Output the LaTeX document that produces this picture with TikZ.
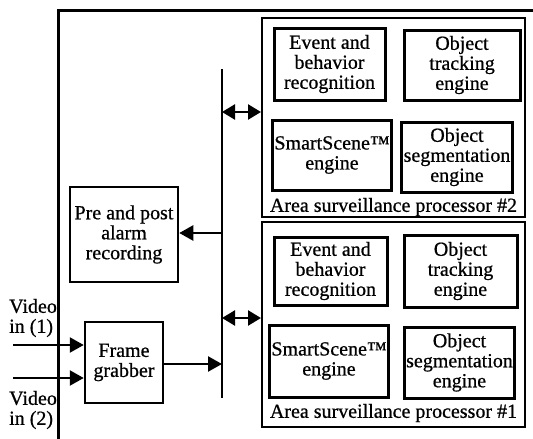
\documentclass[tikz,border=0pt]{standalone}
\usepackage{fontspec}
\setmainfont{Liberation Serif}[FakeBold=0.7]
\usetikzlibrary{arrows.meta,positioning}
\tikzset{
  font=\fontsize{20}{20}\selectfont,
  engine/.style={draw, line width=3pt, align=center, inner sep=2pt},
  proc/.style={draw, line width=2pt, minimum width=263pt},
  unit/.style={draw, line width=2.5pt, align=center, inner sep=2pt},
  busline/.style={line width=2.3pt},
  flow/.style={-{Triangle[length=14pt,width=15pt]}, line width=2.4pt},
  dflow/.style={{Triangle[length=13pt,width=15pt]}-{Triangle[length=13pt,width=15pt]}, line width=2.4pt},
  plabel/.style={inner sep=0pt}
}
\begin{document}
\begin{tikzpicture}[x=1pt,y=-1pt]
  \useasboundingbox (0,0) rectangle (533,439);
  % outer frame
  \coordinate (fbot) at (58,439);
  \coordinate (ftop) at (58,10);
  \coordinate (fright) at (533,10);
  \draw[line width=3pt] (fbot) -- (ftop) -- (fright);

  % processor #2
  \node[proc, minimum height=199pt] (proc2) at (393.5,117.5) {};
  \node[engine, minimum width=111pt, minimum height=72pt] (ev2) at (329.5,64) {Event and\\behavior\\recognition};
  \node[engine, minimum width=116pt, minimum height=70pt] (tr2) at (462,65) {Object\\tracking\\engine};
  \node[engine, minimum width=116pt, minimum height=70pt] (ss2) at (332,155) {SmartScene™\\engine};
  \node[engine, minimum width=110pt, minimum height=70pt] (sg2) at (457,157) {Object\\segmentation\\engine};
  \node[plabel] (lab2) at (393.5,207) {Area surveillance processor \#2};

  % processor #1
  \node[proc, minimum height=205pt] (proc1) at (393.5,324.5) {};
  \node[engine, minimum width=113pt, minimum height=68pt] (ev1) at (330.5,271) {Event and\\behavior\\recognition};
  \node[engine, minimum width=113pt, minimum height=72pt] (tr1) at (460.5,271) {Object\\tracking\\engine};
  \node[engine, minimum width=110pt, minimum height=72pt] (ss1) at (329,361) {SmartScene™\\engine};
  \node[engine, minimum width=109pt, minimum height=71pt] (sg1) at (459.5,362.5) {Object\\segmentation\\engine};
  \node[plabel] (lab1) at (393.5,413) {Area surveillance processor \#1};

  % left units
  \node[unit, minimum width=108pt, minimum height=95pt] (rec) at (124,234.5) {Pre and post\\alarm\\recording};
  \node[unit, minimum width=78pt, minimum height=81pt] (fg) at (124,362.5) {Frame\\grabber};

  % bus
  \coordinate (bustop) at (222,69);
  \coordinate (busbot) at (222,398);
  \draw[busline] (bustop) -- (busbot);
  \coordinate (b2) at (222,112);
  \coordinate (brec) at (222,233);
  \coordinate (b1) at (222,318);
  \coordinate (bfg) at (222,364);

  % inputs
  \coordinate (vin1) at (13,345);
  \coordinate (vin2) at (13,378);
  \node[plabel, align=left, anchor=west] (lv1) at (9,318) {Video\\in (1)};
  \node[plabel, align=left, anchor=west] (lv2) at (9,410) {Video\\in (2)};

  \draw[flow] (vin1) -- (fg.west |- vin1);
  \draw[flow] (vin2) -- (fg.west |- vin2);
  \draw[flow] (fg.east |- bfg) -- (bfg);
  \draw[flow] (brec) -- (rec.east |- brec);
  \draw[dflow] (b2) -- (proc2.west |- b2);
  \draw[dflow] (b1) -- (proc1.west |- b1);
\end{tikzpicture}
\end{document}
